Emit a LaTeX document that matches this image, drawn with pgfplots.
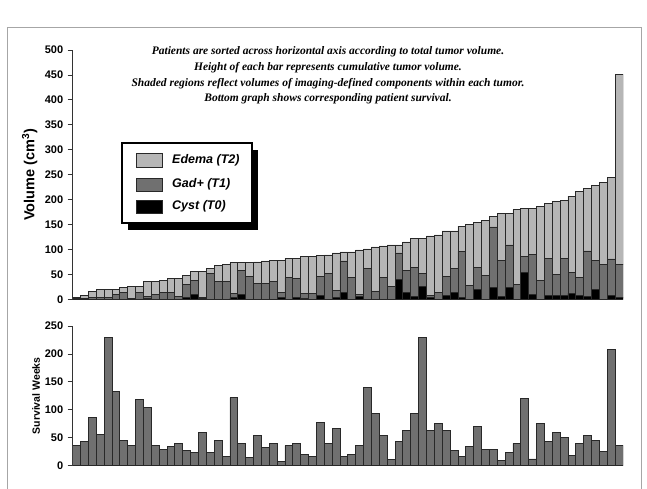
\documentclass[border=0pt]{standalone}
\usepackage{pgfplots}
\usepackage{pgfplotstable}
\pgfplotsset{compat=1.18}
\usepackage{fontspec}
\setmainfont{Liberation Sans}
\newfontfamily\timesf{Liberation Serif}
\definecolor{edema}{RGB}{182,182,182}
\definecolor{gad}{RGB}{112,112,112}
\definecolor{barline}{RGB}{40,40,40}

\pgfplotstableread{
x c g e
1 0 2 1
2 0 2 5
3 0 4 11
4 0 4 15
5 0 4 15
6 0 10 9
7 0 14 9
8 0 2 23
9 0 14 11
10 1 4 30
11 0 10 25
12 0 14 23
13 0 14 27
14 0 5 36
15 4 25 18
16 10 27 18
17 2 2 51
18 0 52 9
19 0 35 32
20 0 35 34
21 3 9 61
22 10 47 16
23 0 45 28
24 0 32 43
25 0 32 45
26 0 35 43
27 4 10 64
28 0 43 39
29 3 38 41
30 2 10 74
31 0 12 74
32 7 38 43
33 0 51 38
34 3 14 76
35 13 64 18
36 0 44 51
37 5 4 90
38 0 62 39
39 0 15 90
40 0 43 64
41 0 26 83
42 40 53 16
43 14 44 57
44 6 58 58
45 26 26 70
46 3 4 120
47 0 14 115
48 8 38 91
49 14 48 75
50 4 92 51
51 0 28 123
52 20 44 91
53 0 48 111
54 23 122 21
55 5 73 94
56 23 86 63
57 0 30 150
58 54 32 96
59 9 81 92
60 0 37 150
61 7 75 111
62 7 43 147
63 7 75 117
64 12 42 153
65 7 37 173
66 6 91 126
67 19 59 151
68 0 69 165
69 7 74 164
70 3 66 382
}\voltable

\pgfplotstableread{
x w
1 36
2 44
3 87
4 56
5 230
6 133
7 45
8 36
9 118
10 104
11 36
12 29
13 34
14 40
15 27
16 23
17 60
18 23
19 45
20 16
21 122
22 40
23 14
24 54
25 33
26 40
27 7
28 36
29 40
30 20
31 16
32 78
33 40
34 66
35 16
36 20
37 36
38 140
39 94
40 54
41 11
42 44
43 63
44 94
45 230
46 63
47 76
48 63
49 27
50 16
51 34
52 71
53 29
54 29
55 9
56 23
57 40
58 120
59 12
60 76
61 44
62 60
63 51
64 18
65 40
66 54
67 45
68 25
69 208
70 36
}\survtable

\begin{document}
\begin{tikzpicture}
\useasboundingbox (0,0) rectangle (647pt,489pt);
\fill[white] (0,0) rectangle (647pt,489pt);
\draw[gray!70, line width=0.6pt] (7pt,0) -- (7pt,462pt) -- (641pt,462pt) -- (641pt,0);

\pgfplotsset{
  common/.style={
    scale only axis,
    width=550.3pt,
    xmin=0.5, xmax=70.5,
    axis x line*=bottom, axis y line*=left,
    axis line style={black!80, line width=0.8pt},
    xtick=\empty,
    tick align=outside,
    major tick length=5pt,
    tick style={black!80, line width=0.8pt},
    /pgf/number format/assume math mode=true,
    yticklabel style={font=\bfseries\fontsize{11}{13}\selectfont, xshift=-1pt},
    bar width=1,
  },
}

\begin{axis}[common,
  at={(72.7pt,189.7pt)}, anchor=south west,
  height=249.3pt,
  ymin=0, ymax=500,
  ytick={0,50,...,500},
  ybar stacked,
  ylabel={Volume (cm$^{\mathbf{3}}$)},
  ylabel style={at={(axis description cs:-0.078,0.5)}, anchor=center, font=\bfseries\fontsize{14.5}{16}\selectfont},
]
\addplot[fill=black, draw=barline, line width=0.8pt] table[x=x, y=c] {\voltable};
\addplot[fill=gad, draw=barline, line width=0.8pt] table[x=x, y=g] {\voltable};
\addplot[fill=edema, draw=barline, line width=0.8pt] table[x=x, y=e] {\voltable};
\end{axis}

\begin{axis}[common,
  at={(72.7pt,23.3pt)}, anchor=south west,
  height=139.7pt,
  ymin=0, ymax=250,
  ytick={0,50,...,250},
  ybar,
  ylabel={Survival Weeks},
  ylabel style={at={(axis description cs:-0.0667,0.5)}, anchor=center, font=\bfseries\fontsize{10.5}{12}\selectfont},
]
\addplot[fill=gad, draw=barline, line width=0.8pt] table[x=x, y=w] {\survtable};
\end{axis}

% legend
\fill[black] (128pt,259pt) rectangle (258pt,339pt);
\draw[black, line width=1.3pt, fill=white] (122pt,266pt) rectangle (252pt,346pt);
\draw[barline, line width=0.8pt, fill=edema] (136pt,322pt) rectangle (162pt,336pt);
\draw[barline, line width=0.8pt, fill=gad] (136pt,298pt) rectangle (162pt,311pt);
\draw[barline, line width=0.8pt, fill=black] (136pt,276pt) rectangle (162pt,289pt);
\begin{scope}[every node/.style={anchor=west, inner sep=0pt, font=\bfseries\itshape\fontsize{12.5}{14}\selectfont}]
\node at (172pt,329pt) {Edema (T2)};
\node at (172pt,304.5pt) {Gad+ (T1)};
\node at (172pt,282.5pt) {Cyst (T0)};
\end{scope}

\node[align=center, font=\timesf\bfseries\itshape\fontsize{11.5}{15.7}\selectfont] at (328pt,413.5pt)
{Patients are sorted across horizontal axis according to total tumor volume.\\
Height of each bar represents cumulative tumor volume.\\
Shaded regions reflect volumes of imaging-defined components within each tumor.\\
Bottom graph shows corresponding patient survival.};
\end{tikzpicture}
\end{document}
